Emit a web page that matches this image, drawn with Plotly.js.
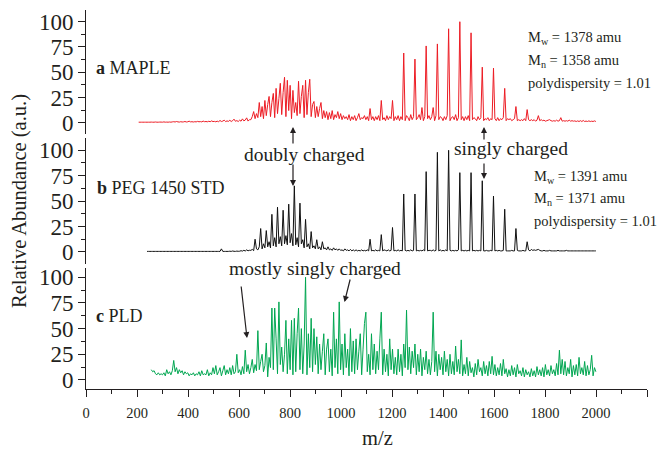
<!DOCTYPE html>
<html>
<head>
<meta charset="utf-8">
<script src="https://cdn.plot.ly/plotly-3.0.1.min.js"></script>
<style>html,body{margin:0;padding:0;background:#fff;}#chart{width:657px;height:451px;}</style>
</head>
<body>
<div id="chart"></div>
<script>
// m/z grid shared by all three spectra (first point and spacing)
const mzStart = 206.5;
const mzStep = 5.5;

// a MAPLE (relative abundance, one value per grid step)
const mapleAbundance = [
0.5,0.5,0.5,0.5,0.5,0.5,0.5,0.5,
0.5,0.6,0.5,0.5,0.7,0.5,0.5,0.6,
0.6,0.5,0.8,0.5,0.6,0.5,0.7,0.5,
0.8,1,0.7,1.2,0.8,0.6,1,0.7,
0.8,1.2,0.7,0.9,1.5,0.8,1,0.7,
1,0.8,1.3,0.9,1.1,0.8,1.6,1,
1.2,0.9,1.4,1,1.8,1.1,1.3,0.9,
1.5,1,2.2,1.2,1.6,2.5,1.1,1.8,
1.3,2.4,1.2,2,3.5,1.4,2.1,1.2,
2.5,1.5,3.8,1.8,2.6,4.8,1.6,3,
3,6,11,4,9,5,20,6,
16,4,22,7,18,26,6,20,
29,5,34,9,24,39,8,30,
45,6,42,12,37,4,32,10,
20,7,41,9,26,37,5,42,
8,30,43,6,18,21,5,16,
6,14,20,4,12,5,11,3,
10,4,12,3,8,5,11,4,
9,3,7,4,6,3,8,2,
6,3,7,2,5,9,3,5,
4,7,3,6,2,14,3,6,
2,6,3,7,2,22,3,5,
2,7,3,6,4,22,2,6,
3,7,2,6,3,69,2,7,
5,2,8,3,6,63,3,5,
8,3,15,2,6,76,4,7,
3,6,15,2,7,78,3,6,
5,2,6,3,7,93,2,5,
6,3,8,2,5,100,3,6,
2,6,3,7,2,89,3,5,
4,2,6,3,5,55,2,4,
3,5,2,4,3,54,4,2,
5,2,4,3,5,34,2,4,
3,4,2,3,4,16,2,3,
2,3,2,4,2,13,3,2,
3,2,3,1.5,2.5,7,2,3,
2,2.5,1.5,2,2.5,3,2,1.5,
2,1.5,2.5,1.5,2,5,1.5,2,
1.5,2,1.5,2.5,1.5,2,1.5,1.8,
1.2,1.8,1.2,2,1.2,2.2,1.2,1.6,
1.2,1.8,1.2,1.5,1.2,1.8,1.2
];

// b PEG 1450 STD
const pegAbundance = [
null,null,null,null,null,null,0.5,0.5,
0.5,0.5,0.5,0.5,0.5,0.5,0.5,0.5,
0.5,0.5,0.5,0.5,0.5,0.5,0.5,0.5,
0.5,0.5,0.5,0.5,0.5,0.5,0.5,0.5,
0.5,0.5,0.5,0.5,0.5,0.5,0.5,0.5,
0.5,0.5,0.5,0.5,0.5,0.5,0.5,0.5,
0.5,0.5,0.5,0.5,0.5,0.5,0.5,0.5,
0.5,0.5,0.5,3,0.5,0.5,0.5,0.5,
0.5,0.7,0.5,0.9,0.6,0.5,0.8,0.6,
0.7,1.2,0.8,1.6,0.9,2,1.1,1.6,
1.5,2.5,1.2,12.5,3,2,5,23,
3,8,4,21,5,10,4,37,
6,14,5,44,8,15,6,41,
8,16,7,47,9,18,6,65,
7,14,5,48,8,12,4,32,
5,8,3,20,4,6,3,12,
3,5,2,10,3,4,2,5,
2,3,1.5,4,2,3,1.5,3,
1.5,2,1,3,1.5,2,1,2.5,
1,2,1,2,1,1.5,1,2,
1,1.5,1,2,1,12.5,1,1.5,
1,2,1,1.5,1,17,1,2,
1.5,1,2,1,1.5,24,1,1.5,
1,2,1,1.5,1,57,1.5,1,
1.5,1,2,1,1.5,57,1,1.5,
1,1.5,1,2,1,79,1,1.5,
1.5,1,2,1,1.5,98,1,2,
1,1.5,1,2,1,100,1.5,1,
1.5,1,1.5,1,2,78,1,1.5,
1,1.5,1,1.5,1,78,1,1.5,
1,1.5,1,1.5,1,70,1,1,
1.5,1,1,1.5,1,55,1,1.5,
1,1.5,1,1,1.5,42,1,1,
1,1,1.5,1,1,23,1.5,1,
1,1,1.5,1,1,10,2,1,
2.5,1.5,2,1.5,2,2.5,1.5,1,
1,1.5,1,1,1,1.5,1,1,
1,1,1,1.5,1,1,1,1,
1,1.5,1,1,1,1,1,1,
1,1,1,1,1,1,1,1,
1,1,1,1,1,1,1
];

// c PLD
const pldAbundance = [
null,null,null,null,null,null,null,null,
null,10,8,9,6,5,7,5,
6,5,7,4,10,6,8,5,
9,19,8,12,6,10,7,9,
5,8,6,7,4,6,5,7,
4,6,5,8,4,9,5,6,
5,10,4,7,5,12,6,14,
5,8,12,4,9,14,5,10,
6,12,5,14,6,8,25,7,
10,5,13,6,29,8,15,6,
12,20,7,15,9,48,10,18,
25,8,14,36,3,22,12,70,
10,70,40,6,76,15,32,8,
25,58,6,40,10,58,5,60,
8,45,70,10,50,6,35,100,
5,45,12,60,8,50,15,42,
6,35,10,28,45,5,30,40,
8,30,4,66,12,40,6,76,
10,35,5,45,12,30,4,50,
8,38,6,40,10,28,45,5,
30,55,66,8,25,5,45,10,
35,6,28,10,40,66,5,30,
8,25,4,40,10,30,6,22,
5,30,8,25,4,35,12,68,
10,32,6,28,12,35,5,25,
8,30,4,22,10,28,6,20,
5,18,66,8,28,4,25,10,
22,5,28,8,20,4,25,6,
18,5,33,8,20,6,39,4,
15,6,22,4,18,7,12,3,
16,5,20,8,12,4,18,6,
14,4,18,6,23,5,15,4,
12,5,16,4,20,6,11,3,
10,4,14,5,12,3,15,6,
9,4,12,3,10,5,8,3,
11,4,9,3,13,5,10,4,
12,3,15,5,10,4,14,6,
10,4,16,5,29,6,20,5,
18,4,12,6,20,3,14,5,
15,4,22,6,12,5,18,4,
14,5,10,24,4,12,8
];

const yTickVals = [0, 25, 50, 75, 100];
const xTickVals = [0, 200, 400, 600, 800, 1000, 1200, 1400, 1600, 1800, 2000, 2200];

const INK = '#231f20';
const SERIF = 'Liberation Serif, Times New Roman, serif';

// plot-area pixel box used to place annotations
const L = 86, R = 647, T = 10, B = 389;
const px = p => (p - L) / (R - L);
const py = p => (B - p) / (B - T);

function spec(y, color, axis) {
  return {type: 'scatter', mode: 'lines', x0: mzStart, dx: mzStep, y: y,
          xaxis: 'x', yaxis: axis, line: {color: color, width: 1, simplify: false},
          hoverinfo: 'skip', showlegend: false};
}

const data = [
  spec(mapleAbundance, '#ed1c24', 'y'),
  spec(pegAbundance, '#111111', 'y2'),
  spec(pldAbundance, '#00a651', 'y3')
];

function yax(domain, range) {
  return {domain: domain, range: range, tickvals: yTickVals, ticktext: yTickVals.map(String),
          ticks: 'outside', ticklen: 7, tickwidth: 1, tickcolor: INK,
          minor: {dtick: 12.5, tick0: 0, ticks: 'outside', ticklen: 4, tickwidth: 1, tickcolor: INK, showgrid: false},
          showline: true, linecolor: INK, linewidth: 1, showgrid: false, zeroline: false,
          tickfont: {family: SERIF, size: 23, color: INK}, anchor: 'x', fixedrange: true};
}

const tfont = (s) => ({family: SERIF, size: s, color: INK});
function txt(text, x, y, size, xanchor, extra) {
  return Object.assign({text: text, xref: 'paper', yref: 'paper', x: px(x), y: py(y),
    xanchor: xanchor || 'left', yanchor: 'middle', showarrow: false, font: tfont(size)}, extra || {});
}
function arrow(tipX, tipY, tailX, tailY) {
  return {text: '', xref: 'paper', yref: 'paper', x: px(tipX), y: py(tipY),
    ax: tailX - tipX, ay: tailY - tipY, showarrow: true, arrowhead: 2, arrowsize: 1,
    arrowwidth: 1.2, arrowcolor: INK, standoff: 0};
}

const layout = {
  width: 657, height: 451,
  margin: {l: L, r: 657 - R, t: T, b: 451 - B, pad: 0},
  paper_bgcolor: '#fff', plot_bgcolor: '#fff',
  font: {family: SERIF, color: INK},
  xaxis: {range: [0, 2200], tickvals: xTickVals, anchor: 'y3',
          ticks: 'outside', ticklen: 7, tickwidth: 1, tickcolor: INK,
          minor: {dtick: 100, tick0: 0, ticks: 'outside', ticklen: 4, tickwidth: 1, tickcolor: INK, showgrid: false},
          showline: true, linecolor: INK, linewidth: 1, showgrid: false, zeroline: false,
          ticklabelstandoff: 4,
          tickfont: {family: SERIF, size: 14.5, color: INK}, fixedrange: true},
  yaxis: yax([0.6728, 1], [-11.2, 111.6]),
  yaxis2: yax([0.3298, 0.6631], [-11.9, 112.4]),
  yaxis3: yax([0, 0.3201], [-8.8, 109.3]),
  annotations: [
    txt('Relative Abundance (a.u.)', 19, 201, 20.5, 'center', {textangle: -90}),
    txt('m/z', 377, 451, 20.5, 'center', {yanchor: 'bottom'}),
    txt('<b>a</b> MAPLE', 94, 68, 18),
    txt('<b>b</b> PEG 1450 STD', 95, 188, 18),
    txt('<b>c</b> PLD', 94, 316, 18),
    txt('doubly charged', 304, 155, 19.5, 'center'),
    txt('singly charged', 511, 149, 19.5, 'center'),
    txt('mostly singly charged', 315, 268, 19.5, 'center'),
    txt('M<sub>w</sub> = 1378 amu', 526, 38, 14.5),
    txt('M<sub>n</sub> = 1358 amu', 526, 61, 14.5),
    txt('polydispersity = 1.01', 526, 83, 14.5),
    txt('M<sub>w</sub> = 1391 amu', 532, 177, 14.5),
    txt('M<sub>n</sub> = 1371 amu', 532, 199, 14.5),
    txt('polydispersity = 1.01', 532, 221, 14.5),
    arrow(293, 127, 293, 145),
    arrow(293, 186, 293, 163),
    arrow(484, 127, 484, 141),
    arrow(484, 179, 484, 162),
    arrow(247, 338, 241, 285),
    arrow(344.5, 302, 350.5, 278)
  ]
};

Plotly.newPlot('chart', data, layout, {staticPlot: true, displayModeBar: false});
</script>
</body>
</html>
